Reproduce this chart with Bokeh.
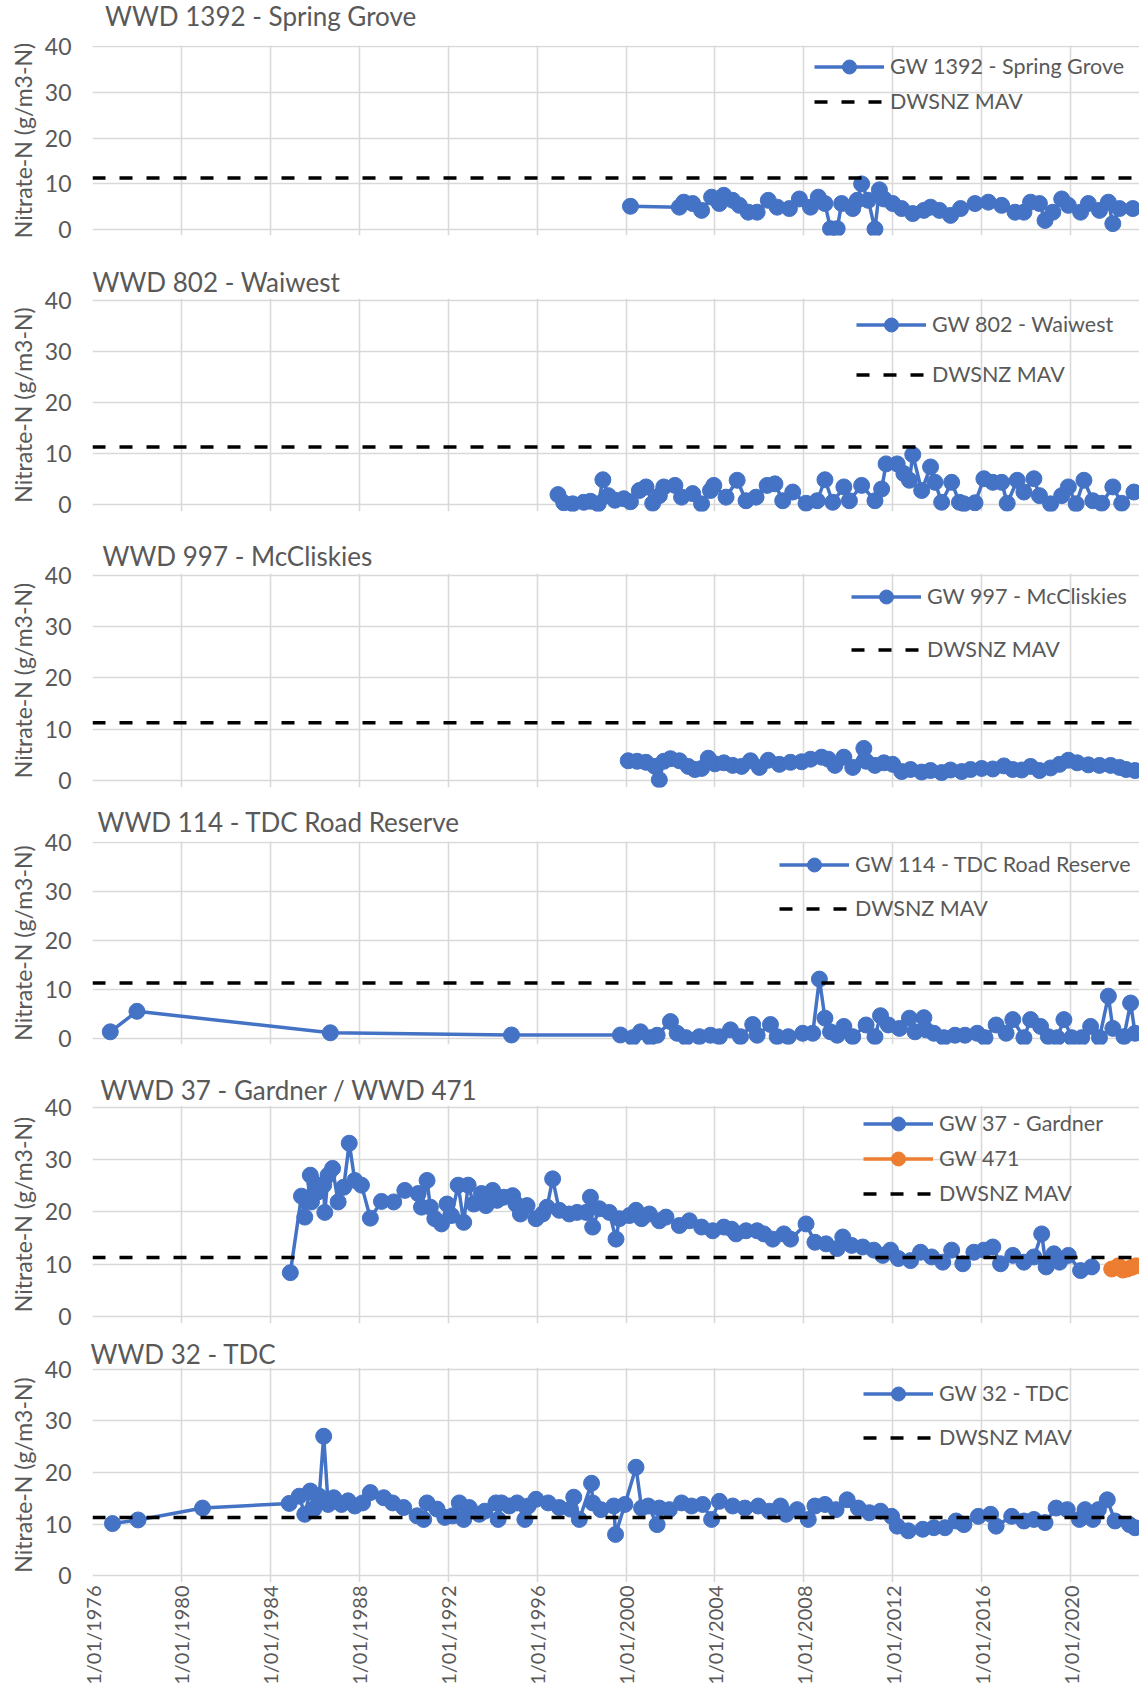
import math
from bokeh.plotting import figure
from bokeh.models import Range1d, FixedTicker, Legend, LegendItem, ColumnDataSource, Div
from bokeh.layouts import column
from bokeh.embed import file_html
from bokeh.resources import INLINE

# ---------------- data ----------------
tick_years = [1976, 1980, 1984, 1988, 1992, 1996, 2000, 2004, 2008, 2012, 2016, 2020]
tick_labels = ["1/01/1976", "1/01/1980", "1/01/1984", "1/01/1988", "1/01/1992", "1/01/1996",
               "1/01/2000", "1/01/2004", "1/01/2008", "1/01/2012", "1/01/2016", "1/01/2020"]
y_ticks = [0, 10, 20, 30, 40]
mav_value = 11.3
x_start, x_end = 1976.0, 2023.1
y_start, y_end = -1.3, 40.3

sg_year = [2000.2, 2002.4, 2002.6, 2003.0, 2003.4, 2003.85, 2004.2, 2004.4, 2004.8, 2005.1,
           2005.5, 2005.9, 2006.4, 2006.8, 2007.35, 2007.8, 2008.3, 2008.65, 2008.95, 2009.2,
           2009.5, 2009.7, 2010.2, 2010.4, 2010.6, 2010.9, 2011.2, 2011.4, 2011.6, 2012.0,
           2012.4, 2012.9, 2013.4, 2013.7, 2014.1, 2014.6, 2015.05, 2015.7, 2016.3, 2016.9,
           2017.5, 2017.9, 2018.2, 2018.6, 2018.85, 2019.2, 2019.6, 2019.9, 2020.45, 2020.8,
           2021.3, 2021.7, 2021.9, 2022.2, 2022.8]
sg_no3 = [5.1, 4.9, 6.0, 5.7, 4.2, 7.1, 5.7, 7.5, 6.4, 5.3,
          3.8, 3.8, 6.4, 4.9, 4.6, 6.7, 4.9, 7.1, 5.7, 0.2,
          0.2, 5.7, 4.6, 6.4, 10.0, 6.4, 0.1, 8.7, 6.7, 5.7,
          4.6, 3.5, 4.2, 4.9, 4.2, 3.1, 4.6, 5.7, 6.0, 5.3,
          3.8, 3.8, 6.0, 5.7, 2.0, 3.8, 6.7, 5.3, 3.8, 5.7,
          4.2, 6.0, 1.3, 4.6, 4.6]

ww_year = [1996.94, 1997.2, 1997.6, 1998.1, 1998.4, 1998.75, 1998.96, 1999.2, 1999.5, 1999.9,
           2000.2, 2000.6, 2000.9, 2001.2, 2001.5, 2001.7, 2002.2, 2002.5, 2003.0, 2003.4,
           2003.8, 2003.95, 2004.5, 2005.0, 2005.4, 2005.85, 2006.35, 2006.7, 2007.05, 2007.5,
           2008.1, 2008.6, 2008.95, 2009.3, 2009.8, 2010.05, 2010.6, 2011.2, 2011.5, 2011.7,
           2012.2, 2012.5, 2012.75, 2012.9, 2013.3, 2013.7, 2013.9, 2014.2, 2014.65, 2015.0,
           2015.2, 2015.7, 2016.1, 2016.5, 2016.9, 2017.15, 2017.6, 2017.9, 2018.35, 2018.6,
           2019.1, 2019.6, 2019.9, 2020.25, 2020.6, 2021.0, 2021.4, 2021.9, 2022.3, 2022.85]
ww_no3 = [2.0, 0.4, 0.2, 0.5, 0.7, 0.2, 4.9, 1.8, 0.9, 1.2,
          0.6, 2.8, 3.5, 0.3, 1.8, 3.5, 3.8, 1.5, 2.2, 0.2,
          2.8, 3.8, 1.5, 4.8, 0.8, 1.5, 3.8, 4.1, 0.8, 2.5,
          0.3, 0.8, 4.9, 0.5, 3.5, 0.8, 3.8, 0.8, 3.1, 8.0,
          8.0, 6.1, 4.8, 9.8, 2.8, 7.4, 4.4, 0.5, 4.4, 0.5,
          0.2, 0.4, 5.1, 4.4, 4.4, 0.3, 4.8, 2.5, 5.1, 1.8,
          0.2, 1.8, 3.5, 0.2, 4.8, 0.8, 0.3, 3.5, 0.3, 2.5]

mc_year = [2000.1, 2000.5, 2000.9, 2001.3, 2001.5, 2001.7, 2002.0, 2002.4, 2002.8, 2003.1,
           2003.4, 2003.7, 2004.0, 2004.4, 2004.8, 2005.2, 2005.6, 2006.0, 2006.4, 2006.9,
           2007.4, 2007.9, 2008.3, 2008.8, 2009.1, 2009.4, 2009.8, 2010.2, 2010.7, 2010.8,
           2011.2, 2011.6, 2012.0, 2012.4, 2012.8, 2013.3, 2013.7, 2014.2, 2014.6, 2015.1,
           2015.5, 2016.0, 2016.5, 2017.0, 2017.4, 2017.8, 2018.2, 2018.6, 2019.1, 2019.5,
           2019.9, 2020.3, 2020.8, 2021.3, 2021.8, 2022.2, 2022.5, 2022.9]
mc_no3 = [3.9, 3.8, 3.6, 2.8, 0.2, 3.8, 4.3, 3.9, 2.8, 2.2,
          2.4, 4.4, 3.3, 3.5, 3.0, 2.8, 3.9, 2.6, 4.0, 3.2,
          3.6, 3.7, 4.2, 4.6, 4.2, 3.0, 4.6, 2.6, 6.3, 3.8,
          3.0, 3.5, 3.2, 1.8, 2.2, 1.7, 2.0, 1.6, 2.1, 1.8,
          2.2, 2.4, 2.3, 2.9, 2.2, 2.1, 2.8, 2.0, 2.5, 3.2,
          4.0, 3.5, 3.1, 3.0, 3.0, 2.6, 2.2, 2.0]

rr_year = [1976.8, 1978.0, 1986.7, 1994.85, 1999.75, 2000.3, 2000.65, 2001.1, 2001.4, 2002.0,
           2002.3, 2002.7, 2003.3, 2003.8, 2004.2, 2004.7, 2005.15, 2005.7, 2005.9, 2006.5,
           2006.8, 2007.3, 2007.95, 2008.4, 2008.7, 2008.95, 2009.2, 2009.5, 2009.8, 2010.2,
           2010.8, 2011.2, 2011.45, 2011.8, 2012.3, 2012.75, 2013.0, 2013.4, 2013.5, 2013.85,
           2014.3, 2014.8, 2015.25, 2015.8, 2016.15, 2016.65, 2017.1, 2017.4, 2017.9, 2018.2,
           2018.65, 2019.0, 2019.4, 2019.7, 2020.05, 2020.5, 2020.9, 2021.3, 2021.7, 2021.9,
           2022.4, 2022.7, 2022.9]
rr_no3 = [1.3, 5.5, 1.1, 0.65, 0.65, 0.1, 1.3, 0.1, 0.6, 3.4,
          1.0, 0.1, 0.3, 0.6, 0.3, 1.7, 0.3, 2.8, 0.6, 2.8,
          0.3, 0.3, 1.0, 1.0, 12.1, 4.1, 1.3, 0.6, 2.4, 0.3,
          2.7, 0.3, 4.6, 2.7, 2.0, 4.1, 1.3, 4.2, 1.7, 1.0,
          0.1, 0.6, 0.6, 1.0, 0.1, 2.7, 1.0, 3.8, 0.1, 3.8,
          2.4, 0.3, 0.1, 3.8, 0.1, 0.1, 2.4, 0.1, 8.6, 2.0,
          0.3, 7.2, 1.0]

gd_year = [1984.9, 1985.4, 1985.55, 1985.8, 1985.85, 1986.0, 1986.15, 1986.4, 1986.45, 1986.6,
           1986.8, 1987.05, 1987.3, 1987.55, 1987.8, 1988.1, 1988.5, 1989.0, 1989.55, 1990.05,
           1990.65, 1990.8, 1991.05, 1991.2, 1991.4, 1991.7, 1991.95, 1992.15, 1992.45, 1992.7,
           1992.9, 1993.15, 1993.5, 1993.7, 1994.0, 1994.2, 1994.5, 1994.9, 1995.05, 1995.25,
           1995.55, 1995.95, 1996.25, 1996.45, 1996.7, 1997.0, 1997.45, 1997.8, 1998.2, 1998.4,
           1998.5, 1998.8, 1999.25, 1999.55, 1999.7, 2000.15, 2000.45, 2000.7, 2001.05, 2001.5,
           2001.8, 2002.4, 2002.85, 2003.4, 2003.9, 2004.4, 2004.75, 2004.95, 2005.4, 2005.9,
           2006.2, 2006.6, 2007.1, 2007.4, 2008.1, 2008.5, 2009.0, 2009.5, 2009.75, 2010.15,
           2010.65, 2011.15, 2011.55, 2011.9, 2012.25, 2012.8, 2013.25, 2013.75, 2014.25, 2014.65,
           2015.15, 2015.65, 2016.1, 2016.5, 2016.85, 2017.4, 2017.9, 2018.35, 2018.7, 2018.9,
           2019.25, 2019.5, 2019.9, 2020.45, 2020.95]
gd_no3 = [8.4, 23.0, 19.0, 27.0, 21.9, 25.4, 23.8, 25.1, 19.9, 27.0,
          28.3, 21.9, 24.7, 33.1, 26.0, 25.1, 18.8, 22.0, 21.9, 24.1,
          23.5, 20.9, 26.0, 20.9, 18.7, 17.7, 21.5, 19.3, 25.1, 18.0,
          25.1, 21.5, 23.5, 21.2, 24.1, 22.2, 22.8, 23.1, 21.5, 19.6,
          21.2, 18.7, 19.6, 20.9, 26.3, 20.3, 19.6, 19.9, 19.9, 22.8,
          17.1, 20.6, 19.9, 14.8, 18.7, 19.3, 20.3, 18.7, 19.6, 18.3,
          19.0, 17.4, 18.3, 17.1, 16.4, 17.1, 16.7, 15.8, 16.4, 16.4,
          15.8, 14.8, 15.8, 14.8, 17.7, 14.2, 13.9, 13.0, 15.2, 13.6,
          13.3, 12.7, 11.7, 12.7, 11.1, 10.7, 12.3, 11.4, 10.4, 12.7,
          10.1, 12.3, 12.7, 13.3, 10.1, 11.7, 10.4, 11.4, 15.8, 9.5,
          12.0, 10.4, 11.7, 8.8, 9.5]

g471_year = [2021.85, 2022.15, 2022.35, 2022.55, 2022.75, 2022.95]
g471_no3 = [9.1, 9.7, 8.9, 9.1, 9.4, 9.7]

td_year = [1976.9, 1978.05, 1980.95, 1984.85, 1985.3, 1985.55, 1985.8, 1985.95, 1986.2, 1986.4,
           1986.6, 1986.85, 1987.2, 1987.5, 1987.8, 1988.15, 1988.5, 1989.1, 1989.5, 1990.0,
           1990.6, 1990.9, 1991.05, 1991.5, 1991.85, 1992.2, 1992.5, 1992.7, 1992.95, 1993.4,
           1993.65, 1994.15, 1994.25, 1994.4, 1994.75, 1995.1, 1995.45, 1995.6, 1995.95, 1996.5,
           1997.0, 1997.5, 1997.65, 1997.9, 1998.45, 1998.5, 1998.87, 1999.45, 1999.53, 1999.95,
           2000.45, 2000.7, 2001.0, 2001.4, 2001.5, 2001.95, 2002.5, 2002.95, 2003.45, 2003.85,
           2004.2, 2004.8, 2005.35, 2005.95, 2006.45, 2006.95, 2007.2, 2007.7, 2008.2, 2008.5,
           2008.95, 2009.45, 2009.95, 2010.45, 2010.95, 2011.45, 2011.95, 2012.2, 2012.7, 2013.35,
           2013.85, 2014.35, 2014.85, 2015.2, 2015.85, 2016.4, 2016.65, 2017.35, 2017.9, 2018.35,
           2018.85, 2019.35, 2019.85, 2020.4, 2020.65, 2021.0, 2021.25, 2021.65, 2022.0, 2022.65,
           2022.9]
td_no3 = [10.1, 10.8, 13.1, 14.0, 15.4, 11.9, 16.4, 12.9, 15.4, 27.0,
          13.8, 15.1, 13.8, 14.5, 13.5, 14.1, 16.1, 15.1, 14.1, 13.2,
          11.6, 10.9, 14.1, 12.9, 11.3, 11.6, 14.1, 10.9, 13.2, 11.9,
          12.5, 14.1, 10.9, 14.1, 13.5, 14.1, 10.9, 13.5, 14.8, 14.1,
          13.2, 12.9, 15.2, 10.9, 17.9, 14.1, 12.8, 13.5, 8.0, 13.8,
          21.0, 13.1, 13.5, 9.9, 13.1, 12.8, 14.1, 13.5, 13.8, 10.9,
          14.4, 13.5, 13.1, 13.5, 12.5, 13.5, 11.9, 12.8, 10.9, 13.5,
          13.8, 12.8, 14.7, 13.1, 12.2, 12.5, 11.5, 9.6, 8.7, 9.0,
          9.3, 9.3, 10.6, 9.9, 11.5, 11.9, 9.6, 11.5, 10.6, 10.9,
          10.3, 13.1, 12.8, 10.9, 12.8, 10.9, 12.8, 14.7, 10.6, 9.9,
          9.3]

panel_titles = ["WWD 1392 - Spring Grove", "WWD 802 - Waiwest", "WWD 997 - McCliskies",
                "WWD 114 - TDC Road Reserve", "WWD 37 - Gardner / WWD 471", "WWD 32 - TDC"]
panel_series = [
    [("GW 1392 - Spring Grove", sg_year, sg_no3, "#4472C4")],
    [("GW 802 - Waiwest", ww_year, ww_no3, "#4472C4")],
    [("GW 997 - McCliskies", mc_year, mc_no3, "#4472C4")],
    [("GW 114 - TDC Road Reserve", rr_year, rr_no3, "#4472C4")],
    [("GW 37 - Gardner", gd_year, gd_no3, "#4472C4"), ("GW 471", g471_year, g471_no3, "#ED7D31")],
    [("GW 32 - TDC", td_year, td_no3, "#4472C4")],
]
mav_label = "DWSNZ MAV"
y_title = "Nitrate-N (g/m3-N)"

# ---------------- layout (page pixel positions) ----------------
FONT = "Lato"
GREY = "#595959"
GRID = "#D9D9D9"
FRAME_LEFT = 92
PX_PER_YEAR = 22.22
FRAME_W = int(round((x_end - x_start) * PX_PER_YEAR))
ITEM_H = 35          # legend item box (marker drawn at 0.4 * height)
TITLE_HALF = 15
HEAD_H = 30          # height of the html header holding the first panel's title
HEAD_PAD = 3
# fig_top, fig_bottom, line40, line0, title_center, title_offset, legend_x, legend_c1, legend_pitch
LAYOUT = [
    (HEAD_H, 245, 46, 229, 19, 13, 722, 66, 35),
    (245, 520, 300, 504, 282, 0, 764, 324, 50),
    (520, 796, 575, 780, 554, 10, 759, 596, 53),
    (796, 1054, 842, 1038, 819, 5, 687, 864, 44),
    (1054, 1332, 1107, 1316, 1090, 8, 771, 1123, 35.5),
    (1332, 1684, 1369, 1575, 1356, -2, 771, 1393, 44),
]

blocks = []
n_panels = len(panel_titles)
for i in range(n_panels):
    fig_top, fig_bot, l40, l0, tc, toff, lx, c1, pitch = LAYOUT[i]
    u = (l0 - l40) / 40.0
    f_top = int(round(l40 - (y_end - 40) * u))
    f_bot = int(round(l0 + (0 - y_start) * u))
    fh = f_bot - f_top
    last = (i == n_panels - 1)
    first = (i == 0)
    p = figure(frame_width=FRAME_W, frame_height=fh,
               min_border_left=FRAME_LEFT, min_border_right=0,
               min_border_top=f_top - fig_top, min_border_bottom=fig_bot - f_bot,
               x_range=Range1d(x_start, x_end), y_range=Range1d(y_start, y_end),
               x_axis_location="below" if last else None,
               output_backend="svg", toolbar_location=None,
               title=None if first else panel_titles[i])
    p.outline_line_color = None
    p.background_fill_color = "white"
    p.border_fill_color = "white"

    if first:
        p.border_fill_alpha = 0
        head = Div(text=panel_titles[i], width=FRAME_LEFT + FRAME_W, height=HEAD_H, margin=0,
                   styles={"font-family": FONT, "font-size": "26px", "color": GREY,
                           "line-height": "%dpx" % (HEAD_H - HEAD_PAD),
                           "padding-top": "%dpx" % HEAD_PAD,
                           "padding-left": "%dpx" % (FRAME_LEFT + toff),
                           "white-space": "nowrap", "box-sizing": "border-box",
                           "overflow": "visible"})
        blocks.append(head)
    else:
        p.title.text_font = FONT
        p.title.text_font_size = "26px"
        p.title.text_font_style = "normal"
        p.title.text_color = GREY
        p.title.align = "left"
        p.title.offset = toff
        p.title.standoff = (f_top - tc) - TITLE_HALF

    yax = p.yaxis[0]
    yax.ticker = FixedTicker(ticks=y_ticks)
    yax.axis_label = y_title
    yax.axis_label_text_font = FONT
    yax.axis_label_text_font_size = "23px"
    yax.axis_label_text_font_style = "normal"
    yax.axis_label_text_color = GREY
    yax.axis_label_standoff = 5
    yax.major_label_text_font = FONT
    yax.major_label_text_font_size = "23px"
    yax.major_label_text_color = GREY
    yax.major_label_standoff = 21
    yax.axis_line_color = None
    yax.major_tick_line_color = None
    yax.minor_tick_line_color = None
    yax.major_tick_out = 0
    yax.major_tick_in = 0
    yax.minor_tick_out = 0

    if last:
        xax = p.xaxis[0]
        xax.ticker = FixedTicker(ticks=tick_years)
        xax.major_label_overrides = {t: l for t, l in zip(tick_years, tick_labels)}
        xax.major_label_orientation = math.pi / 2
        xax.major_label_text_font = FONT
        xax.major_label_text_font_size = "20px"
        xax.major_label_text_color = GREY
        xax.major_label_standoff = 3
        xax.axis_line_color = None
        xax.major_tick_line_color = None
        xax.minor_tick_line_color = None
        xax.major_tick_out = 0
        xax.major_tick_in = 0
        xax.minor_tick_out = 0

    p.xgrid.ticker = FixedTicker(ticks=tick_years)
    p.ygrid.ticker = FixedTicker(ticks=y_ticks)
    for g in list(p.xgrid) + list(p.ygrid):
        g.grid_line_color = GRID
        g.grid_line_width = 1.6

    items = []
    for (label, xs, ys, col) in panel_series[i]:
        src = ColumnDataSource(dict(x=xs, y=ys))
        lr = p.line("x", "y", source=src, line_color=col, line_width=3.5)
        sr = p.scatter("x", "y", source=src, size=16, fill_color=col, line_color=col)
        items.append(LegendItem(label=label, renderers=[lr, sr]))
    mav_src = ColumnDataSource(dict(x=[x_start, x_end], y=[mav_value, mav_value]))
    mr = p.line("x", "y", source=mav_src, line_color="black", line_width=3.5, line_dash="13 14")
    items.append(LegendItem(label=mav_label, renderers=[mr]))

    n_items = len(items)
    spacing = max(0, int(round(pitch - ITEM_H)))
    real_pitch = ITEM_H + spacing
    leg_top = c1 - ITEM_H / 2.0
    leg_bot = leg_top + (n_items - 1) * real_pitch + ITEM_H
    loc_y = f_bot - leg_bot
    leg = Legend(items=items, location=(lx, loc_y), orientation="vertical",
                 glyph_width=70, glyph_height=ITEM_H, label_height=ITEM_H,
                 label_standoff=6, spacing=spacing,
                 padding=0, margin=0, border_line_color=None,
                 background_fill_alpha=0,
                 label_text_font=FONT, label_text_font_size="21.5px",
                 label_text_color=GREY)
    p.add_layout(leg)
    blocks.append(p)

layout = column(*blocks, spacing=0)
open("out.html", "w").write(file_html(layout, INLINE))
